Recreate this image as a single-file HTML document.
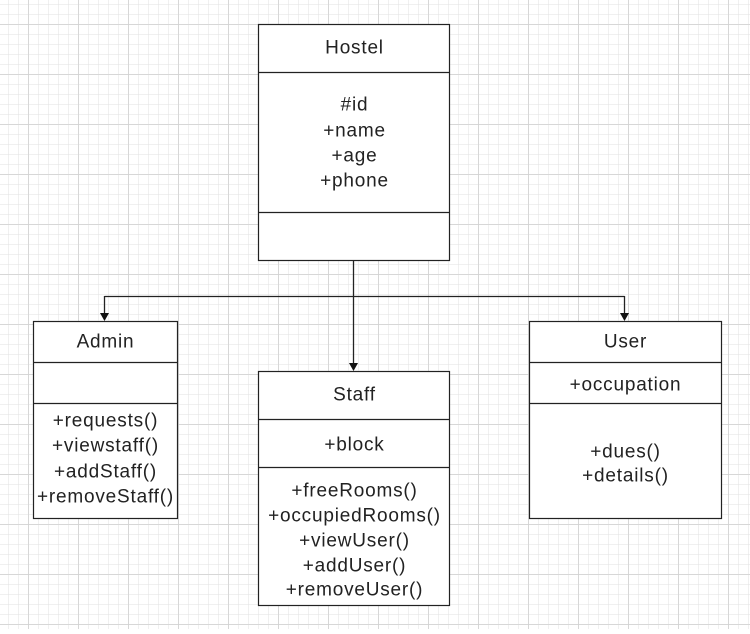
<!DOCTYPE html><html><head><style>
html,body{margin:0;padding:0;background:#fff;}
text{font-family:"Liberation Sans",Arial,sans-serif;font-size:19px;letter-spacing:0.8px;fill:#222;text-anchor:middle;dominant-baseline:central;}
</style></head><body>
<svg width="750" height="629" xmlns="http://www.w3.org/2000/svg">
<defs>
<pattern id="mn" width="10" height="10" patternUnits="userSpaceOnUse" x="8" y="4"><path d="M0 0H10M0 0V10" stroke="#e2e2e2" stroke-width="1" fill="none"/></pattern>
<pattern id="mj" width="50" height="50" patternUnits="userSpaceOnUse" x="28.5" y="24.5"><path d="M0 0H50M0 0V50" stroke="#cccccc" stroke-width="1" fill="none"/></pattern>
</defs>
<rect width="750" height="629" fill="url(#mn)"/>
<rect width="750" height="629" fill="url(#mj)"/>
<g stroke="#222" stroke-width="1.3" fill="none">
<path d="M353.5 260V363M104.5 296.5H624.5M104.5 296V313M624.5 296V313"/>
</g>
<g fill="#111">
<path d="M349 363h9l-4.5 8z"/><path d="M100 313h9l-4.5 8z"/><path d="M620 313h9l-4.5 8z"/>
</g>
<g stroke="#222" stroke-width="1.2" fill="#fff">
<rect x="258.5" y="24.5" width="191" height="236"/>
<rect x="33.5" y="321.5" width="144" height="197"/>
<rect x="258.5" y="371.5" width="191" height="234"/>
<rect x="529.5" y="321.5" width="192" height="197"/>
<path d="M258.5 72.5H449.5M258.5 212.5H449.5M33.5 362.5H177.5M33.5 403.5H177.5M258.5 419.5H449.5M258.5 467.5H449.5M529.5 362.5H721.5M529.5 403.5H721.5" fill="none"/>
</g>
<g transform="translate(0.5,1)">
<text x="354" y="47">Hostel</text>
<text x="354" y="104">#id</text><text x="354" y="130">+name</text><text x="354" y="155">+age</text><text x="354" y="180">+phone</text>
<text x="105" y="341">Admin</text>
<text x="105" y="420">+requests()</text><text x="105" y="445">+viewstaff()</text><text x="105" y="471">+addStaff()</text><text x="105" y="496">+removeStaff()</text>
<text x="354" y="394">Staff</text>
<text x="354" y="444">+block</text>
<text x="354" y="490">+freeRooms()</text><text x="354" y="515">+occupiedRooms()</text><text x="354" y="540">+viewUser()</text><text x="354" y="565">+addUser()</text><text x="354" y="589">+removeUser()</text>
<text x="625" y="341">User</text>
<text x="625" y="384">+occupation</text>
<text x="625" y="451">+dues()</text><text x="625" y="475">+details()</text>
</g>
</svg>
</body></html>
